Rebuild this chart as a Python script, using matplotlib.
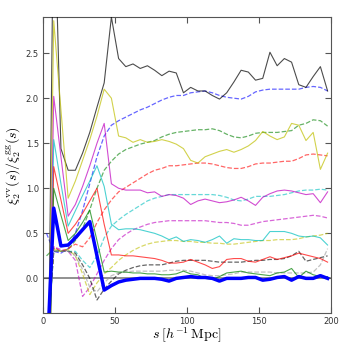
import matplotlib
matplotlib.use('Agg')
import matplotlib.pyplot as plt
import numpy as np

plt.rcParams['mathtext.fontset'] = 'cm'

# centres of the s bins
s = [2.5, 7.5, 12.5, 17.5, 22.5, 27.5, 32.5, 37.5, 42.5, 47.5,
     52.5, 57.5, 62.5, 67.5, 72.5, 77.5, 82.5, 87.5, 92.5, 97.5,
     102.5, 107.5, 112.5, 117.5, 122.5, 127.5, 132.5, 137.5, 142.5, 147.5,
     152.5, 157.5, 162.5, 167.5, 172.5, 177.5, 182.5, 187.5, 192.5, 197.5]

# solid curves
k_solid = [-3.0, 4.36, 1.44, 1.20, 1.20, 1.39, 1.62, 1.90, 2.17, 2.90,
           2.44, 2.35, 2.38, 2.33, 2.36, 2.31, 2.25, 2.30, 2.28, 2.06,
           2.12, 2.08, 2.08, 2.03, 1.99, 2.06, 2.18, 2.31, 2.29, 2.20,
           2.22, 2.51, 2.36, 2.44, 2.40, 2.15, 2.12, 2.24, 2.35, 2.08]
y_solid = [-2.5, 2.86, 1.87, 0.89, 1.08, 1.31, 1.54, 1.80, 2.10, 2.00,
           1.58, 1.56, 1.51, 1.54, 1.51, 1.52, 1.54, 1.52, 1.49, 1.44,
           1.31, 1.28, 1.35, 1.38, 1.41, 1.43, 1.40, 1.43, 1.47, 1.53,
           1.63, 1.58, 1.54, 1.57, 1.72, 1.70, 1.53, 1.62, 1.21, 1.39]
m_solid = [-2.5, 2.02, 1.35, 0.69, 0.82, 1.02, 1.25, 1.50, 1.72, 1.05,
           1.00, 0.98, 0.98, 0.98, 0.95, 0.96, 0.91, 0.93, 0.92, 0.89,
           0.82, 0.86, 0.88, 0.86, 0.84, 0.85, 0.87, 0.90, 0.86, 0.81,
           0.90, 0.94, 0.97, 0.98, 0.97, 0.95, 0.93, 0.94, 0.84, 0.96]
c_solid = [-2.5, 1.54, 1.05, 0.58, 0.75, 0.92, 1.08, 1.25, 1.02, 0.60,
           0.54, 0.55, 0.55, 0.54, 0.52, 0.50, 0.47, 0.43, 0.46, 0.41,
           0.43, 0.42, 0.40, 0.43, 0.47, 0.39, 0.44, 0.43, 0.43, 0.42,
           0.42, 0.52, 0.52, 0.52, 0.50, 0.47, 0.46, 0.47, 0.45, 0.37]
r_solid = [-2.5, 1.24, 0.87, 0.50, 0.60, 0.72, 0.86, 1.00, 0.60, 0.26,
           0.26, 0.25, 0.25, 0.24, 0.23, 0.22, 0.20, 0.17, 0.17, 0.18,
           0.21, 0.18, 0.15, 0.11, 0.13, 0.21, 0.22, 0.22, 0.19, 0.18,
           0.21, 0.24, 0.21, 0.23, 0.25, 0.28, 0.26, 0.24, 0.22, 0.18]
g_solid = [-2.5, 1.00, 0.70, 0.42, 0.50, 0.62, 0.76, 0.42, 0.07, 0.08,
           0.07, 0.07, 0.06, 0.06, 0.05, 0.05, 0.04, 0.04, 0.05, 0.08,
           0.05, 0.04, 0.00, -0.01, 0.02, 0.06, 0.07, 0.08, 0.06, 0.05,
           0.04, 0.03, 0.06, 0.07, 0.11, 0.01, 0.08, 0.04, 0.02, 0.02]
b_solid = [-1.0, 0.78, 0.36, 0.37, 0.45, 0.54, 0.63, 0.25, -0.13, -0.08,
           -0.04, -0.02, -0.01, 0.00, 0.00, 0.00, -0.01, -0.03, 0.00, 0.01,
           0.02, 0.01, 0.01, 0.00, -0.03, 0.00, 0.00, 0.00, 0.01, 0.01,
           -0.02, -0.01, 0.01, 0.02, -0.02, 0.02, 0.00, 0.00, 0.03, 0.00]

# dashed curves
b_dash = [0.50, 0.30, 0.28, 0.33, 0.50, 0.75, 1.05, 1.35, 1.58, 1.70,
          1.75, 1.79, 1.83, 1.87, 1.90, 1.94, 1.98, 2.01, 2.03, 2.03,
          2.06, 2.07, 2.08, 2.06, 2.03, 2.01, 2.00, 1.99, 2.02, 2.07,
          2.09, 2.10, 2.10, 2.10, 2.10, 2.10, 2.12, 2.13, 2.12, 2.08]
g_dash = [0.25, 0.33, 0.30, 0.32, 0.42, 0.55, 0.76, 1.00, 1.20, 1.30,
          1.38, 1.43, 1.46, 1.49, 1.51, 1.53, 1.57, 1.60, 1.62, 1.63,
          1.64, 1.65, 1.65, 1.66, 1.64, 1.60, 1.57, 1.56, 1.58, 1.61,
          1.62, 1.62, 1.62, 1.63, 1.64, 1.70, 1.72, 1.76, 1.75, 1.69]
r_dash = [-0.8, 0.35, 0.30, 0.33, 0.38, 0.35, 0.45, 0.62, 0.76, 0.87,
          0.96, 1.01, 1.06, 1.11, 1.16, 1.20, 1.22, 1.25, 1.25, 1.26,
          1.27, 1.28, 1.28, 1.27, 1.25, 1.23, 1.22, 1.22, 1.24, 1.27,
          1.28, 1.28, 1.29, 1.30, 1.30, 1.33, 1.37, 1.38, 1.37, 1.36]
c_dash = [-0.8, 0.30, 0.30, 0.30, 0.30, 0.20, 0.12, 0.25, 0.45, 0.58,
          0.65, 0.71, 0.76, 0.81, 0.86, 0.89, 0.91, 0.93, 0.93, 0.93,
          0.93, 0.93, 0.93, 0.93, 0.92, 0.90, 0.87, 0.86, 0.88, 0.91,
          0.91, 0.91, 0.92, 0.93, 0.95, 0.97, 0.98, 0.98, 0.99, 0.98]
m_dash = [-0.8, 0.35, 0.32, 0.30, 0.20, -0.20, -0.10, 0.05, 0.20, 0.33,
          0.43, 0.49, 0.54, 0.57, 0.60, 0.62, 0.63, 0.64, 0.64, 0.64,
          0.64, 0.64, 0.64, 0.63, 0.62, 0.62, 0.61, 0.59, 0.59, 0.61,
          0.63, 0.64, 0.65, 0.66, 0.67, 0.68, 0.69, 0.70, 0.69, 0.67]
y_dash = [-0.8, 0.32, 0.30, 0.32, 0.25, 0.05, -0.18, -0.05, 0.05, 0.12,
          0.20, 0.26, 0.31, 0.35, 0.38, 0.40, 0.41, 0.42, 0.42, 0.41,
          0.41, 0.40, 0.40, 0.39, 0.39, 0.38, 0.38, 0.39, 0.40, 0.41,
          0.42, 0.42, 0.43, 0.43, 0.43, 0.44, 0.46, 0.47, 0.48, 0.50]
k_dash = [-0.8, 0.30, 0.30, 0.30, 0.28, 0.15, 0.00, -0.24, -0.12, -0.03,
          0.05, 0.09, 0.12, 0.14, 0.15, 0.15, 0.15, 0.17, 0.19, 0.20,
          0.20, 0.20, 0.20, 0.19, 0.18, 0.18, 0.18, 0.18, 0.19, 0.20,
          0.20, 0.21, 0.21, 0.22, 0.25, 0.30, 0.19, 0.21, 0.23, 0.25]
gray_dash = [-0.8, 0.30, 0.30, 0.30, 0.25, 0.10, -0.10, -0.15, -0.05, 0.03,
             0.06, 0.07, 0.08, 0.08, 0.08, 0.08, 0.08, 0.09, 0.09, 0.09,
             0.08, 0.06, 0.04, 0.03, 0.03, 0.04, 0.05, 0.07, 0.07, 0.07,
             0.07, 0.07, 0.06, 0.06, 0.06, 0.06, 0.06, 0.07, 0.15, 0.33]

fig = plt.figure(figsize=(3.49, 3.49), dpi=100)
ax = fig.add_axes([0.123, 0.103, 0.826, 0.848])

ax.axhline(0, color='#888888', lw=1.3, zorder=1)

dashed = [(b_dash, 'b'), (g_dash, 'g'), (r_dash, 'r'), (c_dash, 'c'),
          (m_dash, 'm'), (y_dash, 'y'), (k_dash, 'k'), (gray_dash, '0.6')]
for vals, col in dashed:
    ax.plot(s, vals, '--', color=col, lw=0.9, alpha=0.6, zorder=2)

solid = [(k_solid, 'k'), (y_solid, 'y'), (m_solid, 'm'), (c_solid, 'c'),
         (r_solid, 'r'), (g_solid, 'g')]
for vals, col in solid:
    ax.plot(s, vals, '-', color=col, lw=0.8, alpha=0.7, zorder=3)
ax.plot(s, b_solid, '-', color='b', lw=2.5, zorder=4)

ax.set_xlim(0, 200)
ax.set_ylim(-0.385, 2.9)
ax.set_xticks([0, 50, 100, 150, 200])
ax.set_yticks([0.0, 0.5, 1.0, 1.5, 2.0, 2.5])
ax.tick_params(direction='in', top=True, right=True, labelsize=6, length=4,
               pad=3, color='#555555', labelcolor='#333333')
for sp in ax.spines.values():
    sp.set_color('#555555')

ax.set_xlabel(r'$s\;[h^{-1}\,{\rm Mpc}]$', fontsize=10, labelpad=0)
ax.set_ylabel(r'$\xi_2^{\rm vv}(s)/\xi_2^{\rm gg}(s)$', fontsize=10, labelpad=2)

fig.savefig('out.png', dpi=100)
